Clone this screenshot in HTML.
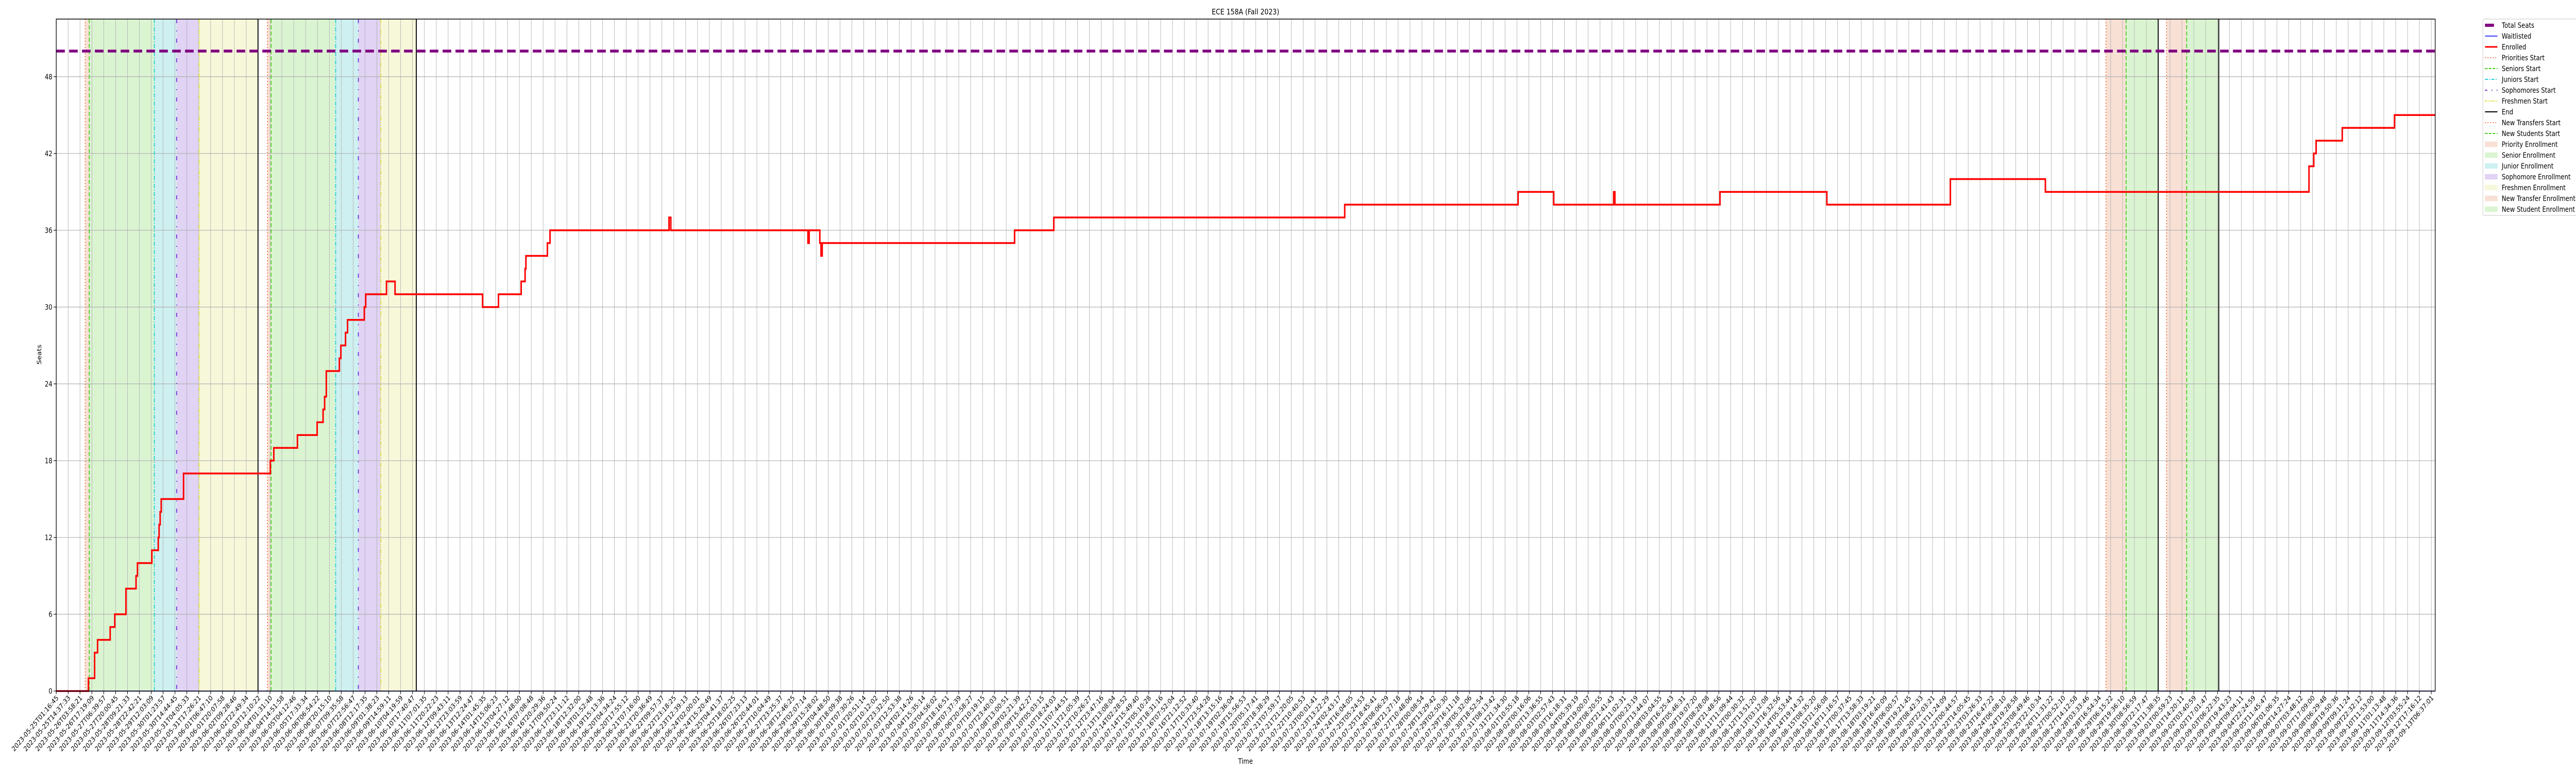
<!DOCTYPE html>
<html><head><meta charset="utf-8"><title>ECE 158A (Fall 2023)</title>
<style>
html,body{margin:0;padding:0;background:#fff;width:100%;height:100%;overflow:hidden;}
#wrap{position:absolute;left:0;top:0;width:100vw;height:100vh;overflow:hidden;}
svg{display:block;width:100vw;height:100vh;font-family:"DejaVu Sans","Liberation Sans",sans-serif;}
</style></head>
<body>
<div id="wrap">
<svg id="chart" viewBox="0 0 6000 1500" preserveAspectRatio="none" xmlns="http://www.w3.org/2000/svg">
<rect x="0" y="0" width="6000" height="1500" fill="#fff"/>
<g id="spans"></g>
<g id="grid"></g>
<g id="vlines"></g>
<g id="series"></g>
<g id="axes"></g>
<text x="2901" y="28" text-anchor="middle" font-size="15">ECE 158A (Fall 2023)</text>
<text x="96" y="688" text-anchor="middle" font-size="14" transform="rotate(-90 96 688)">Seats</text>
<text x="2901" y="1482" text-anchor="middle" font-size="14">Time</text>
<g id="legend"></g>
</svg>
</div>
<script>
// ---- data (x in data-point index units, y in seats) ----
const enrolledT = [0,2.71,3.23,3.48,4.54,4.93,5.87,6.72,6.84,8.05,8.59,8.66,8.75,8.84,10.72,18.03,18.32,20.31,21.97,22.47,22.6,22.74,23.84,23.97,24.36,24.53,25.94,26.06,27.81,28.53,35.9,37.24,39.15,39.48,39.55,41.36,41.58,51.6,51.75,63.3,63.4,64.3,64.4,64.5,80.7,84.0,108.5,123.1,126.1,131.15,131.25,140.1,149.1,159.5,167.5,189.7,190.1,190.3,192.5,196.9];
const enrolledV = [0,1,3,4,5,6,8,9,10,11,12,13,14,15,17,18,19,20,21,22,23,25,26,27,28,29,30,31,32,31,30,31,32,33,34,35,36,37,36,35,36,35,34,35,36,37,38,39,38,39,38,39,38,40,39,41,42,43,44,45];
const waitlistT = [0];
const waitlistV = [0];
const totalSeats = 50;
const spanStarts = [2.44,2.78,8.26,10.14,12.03,17.78,18.09,23.53,25.44,27.33,172.6,174.3,177.7,179.4];
const spanEnds   = [2.78,8.26,10.14,12.03,16.99,18.09,23.53,25.44,27.33,30.32,174.3,177.0,179.4,182.1];
const spanKinds  = ["priority","senior","junior","sophomore","freshman","priority","senior","junior","sophomore","freshman","transfer","newstudent","transfer","newstudent"];
const endTimes = [16.99,30.32,177.0,182.1];
const yTicks = [0,6,12,18,24,30,36,42,48];
const tickCount = 201;
const startTime = "2023-05-25T01:16:45";
const endTime = "2023-09-13T06:37:01";

const NS="http://www.w3.org/2000/svg";
const X0=131, X1=5672, YB=1341, YT=37;
const XMAX=(X1-X0)/27.66;
const YMAX=52.5;
function xs(t){return X0+t/XMAX*(X1-X0);}
function ys(v){return YB-v/YMAX*(YB-YT);}
function mk(tag,attrs,parent){const e=document.createElementNS(NS,tag);for(const k in attrs)e.setAttribute(k,attrs[k]);parent.appendChild(e);return e;}

const spanFill={priority:"#f8e0d5",senior:"#daf4d1",junior:"#cef0f1",sophomore:"#e0d3f4",freshman:"#f7f7da",transfer:"#f8e0d5",newstudent:"#daf4d1"};
const startStyle={
 priority:{stroke:"#ee6a35",dash:"2,4"},
 senior:{stroke:"#44cc1c",dash:"8,4"},
 junior:{stroke:"#1ccdd6",dash:"8,3,2,3"},
 sophomore:{stroke:"#6a2bd6",dash:"8,14,2,14"},
 freshman:{stroke:"#e0e030",dash:"8,3,2,3,2,3"},
 transfer:{stroke:"#ee6a35",dash:"2,4"},
 newstudent:{stroke:"#44cc1c",dash:"8,4"}
};

const gS=document.getElementById('spans');
for(let i=0;i<spanStarts.length;i++){
  const r=mk('rect',{x:xs(spanStarts[i]),y:YT,width:xs(spanEnds[i])-xs(spanStarts[i]),height:YB-YT,fill:spanFill[spanKinds[i]]},gS);
  
  
}
const gG=document.getElementById('grid');
for(let i=0;i<tickCount;i++){
  const x=X0+i*27.66;
  const l=mk('line',{x1:x,x2:x,y1:YT,y2:YB,stroke:"#b0b0b0","stroke-width":1},gG);
  
  
}
for(const v of yTicks){
  const l=mk('line',{x1:X0,x2:X1,y1:ys(v),y2:ys(v),stroke:"#b0b0b0","stroke-width":1.2},gG);
  
  
}
const gV=document.getElementById('vlines');
for(let i=0;i<spanStarts.length;i++){
  const st=startStyle[spanKinds[i]];
  const l=mk('line',{x1:xs(spanStarts[i]),x2:xs(spanStarts[i]),y1:YT,y2:YB,stroke:st.stroke,"stroke-width":2,"stroke-dasharray":st.dash},gV);
  
  
}
for(const t of endTimes){
  const l=mk('line',{x1:xs(t),x2:xs(t),y1:YT,y2:YB,stroke:"#000","stroke-width":2.2},gV);
  
  
}
const gSe=document.getElementById('series');
function stepPath(T,V){
  let d="M"+xs(T[0])+","+ys(V[0]);
  for(let i=1;i<T.length;i++){d+=" H"+xs(T[i])+" V"+ys(V[i]);}
  d+=" H"+xs(XMAX);
  return d;
}
const tl=mk('line',{x1:X0,x2:X1,y1:ys(totalSeats),y2:ys(totalSeats),stroke:"#800080","stroke-width":5.5,"stroke-dasharray":"20,10"},gSe);


const en=mk('path',{d:stepPath(enrolledT,enrolledV),fill:"none",stroke:"#ff0000","stroke-width":3.5},gSe);


const wl=mk('path',{d:stepPath(waitlistT,waitlistV),fill:"none",stroke:"#0000ff","stroke-width":1.6},gSe);



const gA=document.getElementById('axes');
const frame=mk('rect',{x:X0,y:YT,width:X1-X0,height:YB-YT,fill:"none",stroke:"#000","stroke-width":1.5},gA);


for(const v of yTicks){
  const t=mk('line',{x1:X0-6,x2:X0,y1:ys(v),y2:ys(v),stroke:"#000","stroke-width":1.2},gA);
  
  
  const tx=mk('text',{x:X0-9,y:ys(v)+5,"text-anchor":"end","font-size":14},gA);
  
  
  tx.textContent=String(v);
}
const t0=Date.parse(startTime+"Z"), t1=Date.parse(endTime+"Z");
const tickLabels=[];
for(let i=0;i<tickCount;i++){
  const d=new Date(t0+(t1-t0)*i/(tickCount-1));
  tickLabels.push(d.toISOString().slice(0,19));
}
for(let i=0;i<tickCount;i++){
  const x=X0+i*27.66;
  const t=mk('line',{x1:x,x2:x,y1:YB,y2:YB+6,stroke:"#000","stroke-width":1.2},gA);
  
  
  const tx=mk('text',{x:0,y:0,"text-anchor":"end","font-size":13.5,transform:"translate("+(x+6)+","+(YB+14)+") rotate(-45)"},gA);
  
  
  tx.textContent=tickLabels[i];
}

const gL=document.getElementById('legend');
const lb=mk('rect',{x:5783,y:37,width:240,height:381,rx:3,fill:"#fff","fill-opacity":0.8,stroke:"#d0d0d0","stroke-width":1.2},gL);


const legendItems=[
 ["Total Seats","line","#800080",6,""],
 ["Waitlisted","line","#0000ff",1.5,""],
 ["Enrolled","line","#ff0000",3,""],
 ["Priorities Start","line","#ee6a35",2,"2,4"],
 ["Seniors Start","line","#44cc1c",2,"6,3"],
 ["Juniors Start","line","#1ccdd6",2,"7,3,2,3"],
 ["Sophomores Start","line","#6a2bd6",2,"5,10,2,10"],
 ["Freshmen Start","line","#e0e030",2,"5,2,2,2,2,2"],
 ["End","line","#000",2,""],
 ["New Transfers Start","line","#ee6a35",2,"2,4"],
 ["New Students Start","line","#44cc1c",2,"6,3"],
 ["Priority Enrollment","patch","#f8e0d5"],
 ["Senior Enrollment","patch","#daf4d1"],
 ["Junior Enrollment","patch","#cef0f1"],
 ["Sophomore Enrollment","patch","#e0d3f4"],
 ["Freshmen Enrollment","patch","#f7f7da"],
 ["New Transfer Enrollment","patch","#f8e0d5"],
 ["New Student Enrollment","patch","#daf4d1"]
];
legendItems.forEach((it,k)=>{
  const cy=49+21*k;
  const g=mk('g',{},gL);
  
  
  if(it[1]==="line"){
    const x2 = k===0?5809:5817;
    const a={x1:5788,x2:x2,y1:cy,y2:cy,stroke:it[2],"stroke-width":it[3]};
    if(it[4])a["stroke-dasharray"]=it[4];
    mk('line',a,g);
  } else {
    mk('rect',{x:5788,y:cy-5,width:29,height:10,fill:it[2],stroke:it[2],"stroke-opacity":0.6},g);
  }
  const tx=mk('text',{x:5827,y:cy+5,"font-size":14},g);
  tx.textContent=it[0];
});
</script>
</body></html>
